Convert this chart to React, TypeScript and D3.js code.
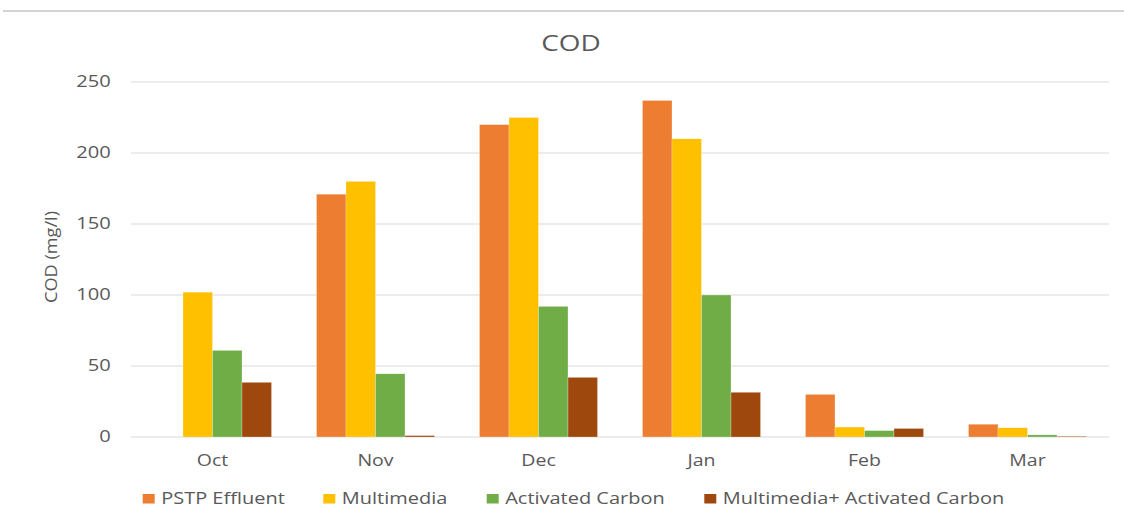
import React from "react";
import * as d3 from "d3";

const months = ["Oct", "Nov", "Dec", "Jan", "Feb", "Mar"];
const seriesNames = ["PSTP Effluent", "Multimedia", "Activated Carbon", "Multimedia+ Activated Carbon"];
const pstpEffluent = [0, 171, 220, 237, 30, 9];
const multimedia = [102, 180, 225, 210, 7, 6.5];
const activatedCarbon = [61, 44.5, 92, 100, 4.5, 1.5];
const multimediaCarbon = [38.5, 1, 42, 31.5, 6, 0.5];
const yTicks = [0, 50, 100, 150, 200, 250];
const colors = ["#ED7D31", "#FFC000", "#70AD47", "#9E480E"];

const W = 1124;
const H = 521;
const plot = { left: 131, right: 1109, top: 82, bottom: 437 };
const font = "'Open Sans', 'Liberation Sans', sans-serif";
const textColor = "#595959";

// Text drawn with a horizontal stretch, anchored at (x, y).
function WideText(props: {
  x: number;
  y: number;
  size: number;
  sx: number;
  anchor?: "start" | "middle" | "end";
  children: React.ReactNode;
}) {
  const { x, y, size, sx, anchor = "start", children } = props;
  return (
    <text
      transform={`translate(${x},${y}) scale(${sx},1)`}
      textAnchor={anchor}
      fontSize={size}
      fill={textColor}
    >
      {children}
    </text>
  );
}

export default function App() {
  const allSeries = [pstpEffluent, multimedia, activatedCarbon, multimediaCarbon];
  const x = d3
    .scaleBand<string>()
    .domain(months)
    .range([plot.left, plot.right])
    .paddingInner(0.276)
    .paddingOuter(0.138);
  const xs = d3.scaleBand<number>().domain(d3.range(allSeries.length)).range([0, x.bandwidth()]);
  const y = d3.scaleLinear().domain([0, 250]).range([plot.bottom, plot.top]);

  const legendSquareX = [142.7, 323.3, 486.7, 704.3];

  return (
    <svg
      width={W}
      height={H}
      style={{ position: "absolute", left: 0, top: 0, background: "#fff" }}
      fontFamily={font}
    >
      <line x1={3} x2={W} y1={11} y2={11} stroke="#d4d4d4" strokeWidth={2} />
      <WideText x={571} y={50.5} size={21} sx={1.33} anchor="middle">COD</WideText>

      {yTicks.map((t) => (
        <g key={t}>
          <line x1={plot.left} x2={plot.right} y1={y(t)} y2={y(t)} stroke="#d9d9d9" strokeWidth={1} />
          <WideText x={110.7} y={y(t) + 5.4} size={15.5} sx={1.3} anchor="end">{t}</WideText>
        </g>
      ))}

      <text
        transform={`translate(56.5,257) rotate(-90)`}
        textAnchor="middle"
        fontSize={16}
        fill={textColor}
        textLength={92}
        lengthAdjust="spacingAndGlyphs"
      >
        COD (mg/l)
      </text>

      {months.map((m, i) => (
        <g key={m}>
          {allSeries.map((s, k) => {
            const v = s[i];
            if (v <= 0) return null;
            return (
              <rect
                key={k}
                x={(x(m) ?? 0) + (xs(k) ?? 0)}
                y={y(v)}
                width={xs.bandwidth()}
                height={y(0) - y(v)}
                fill={colors[k]}
                stroke="#fff"
                strokeOpacity={0.5}
                strokeWidth={0.5}
              />
            );
          })}
          <WideText x={(x(m) ?? 0) + x.bandwidth() / 2} y={466} size={15.5} sx={1.26} anchor="middle">
            {m}
          </WideText>
        </g>
      ))}

      {seriesNames.map((n, k) => (
        <g key={n}>
          <rect x={legendSquareX[k]} y={494} width={12} height={9.5} fill={colors[k]} />
          <WideText x={legendSquareX[k] + 18.5} y={504} size={15.8} sx={1.265}>{n}</WideText>
        </g>
      ))}
    </svg>
  );
}
